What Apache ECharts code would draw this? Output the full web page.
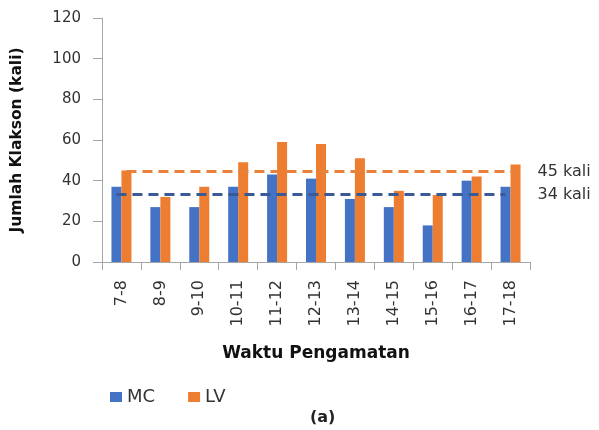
<!DOCTYPE html>
<html>
<head>
<meta charset="utf-8">
<script src="https://cdn.jsdelivr.net/npm/echarts@6/dist/echarts.min.js"></script>
<style>
html,body{margin:0;padding:0;background:#fff;}
#c{width:599px;height:430px;}
</style>
</head>
<body>
<div id="c"></div>
<script>
var categories = ['7-8','8-9','9-10','10-11','11-12','12-13','13-14','14-15','15-16','16-17','17-18'];
var mcValues = [37, 27, 27, 37, 43, 41, 31, 27, 18, 40, 37];
var lvValues = [45, 32, 37, 49, 59, 58, 51, 35, 33, 42, 48];
var yTicks = [0, 20, 40, 60, 80, 100, 120];
var avgLabelMC = '34 kali';
var avgLabelLV = '45 kali';

function mean(a){ var s=0; for(var i=0;i<a.length;i++) s+=a[i]; return s/a.length; }

var FONT = '"DejaVu Sans", sans-serif';
var chart = echarts.init(document.getElementById('c'), null, {renderer:'canvas'});

function avgLine(values, label, color, dist){
  var m = mean(values);
  return {
    silent: true,
    symbol: 'none',
    lineStyle: {color: color, width: 3, type: [10, 6]},
    label: {show: true, position: 'end', distance: dist, formatter: label,
            color: '#333', fontSize: 16, fontFamily: FONT},
    data: [[{coord: [categories[0], m]}, {coord: [categories[categories.length-1], m]}]]
  };
}

chart.setOption({
  animation: false,
  textStyle: {fontFamily: FONT},
  grid: {left: 102, right: 69, top: 18, bottom: 168, containLabel: false},
  title: {text: '(a)', left: 305, top: 405,
          textStyle: {fontSize: 16, fontWeight: 'bold', color: '#222', fontFamily: FONT}},
  legend: {
    left: 105, top: 383, itemWidth: 12, itemHeight: 10, itemGap: 33,
    icon: 'rect',
    textStyle: {fontSize: 18, color: '#333', fontFamily: FONT},
    data: ['MC', 'LV']
  },
  xAxis: {
    type: 'category',
    data: categories,
    name: 'Waktu Pengamatan',
    nameLocation: 'middle',
    nameGap: 83,
    nameTextStyle: {fontSize: 17, fontWeight: 'bold', color: '#111', fontFamily: FONT},
    axisLine: {lineStyle: {color: '#A6A6A6', width: 1}},
    axisTick: {show: true, interval: 0, length: 8, lineStyle: {color: '#A6A6A6'}},
    axisLabel: {rotate: 90, interval: 0, margin: 18, fontSize: 16, color: '#333', fontFamily: FONT}
  },
  yAxis: {
    type: 'value',
    min: yTicks[0], max: yTicks[yTicks.length-1], interval: 20,
    name: 'Jumlah Klakson (kali)',
    nameLocation: 'middle',
    nameGap: 77,
    nameTextStyle: {fontSize: 15.5, fontWeight: 'bold', color: '#111', fontFamily: FONT},
    axisLine: {show: true, lineStyle: {color: '#A6A6A6', width: 1}},
    axisTick: {show: true, length: 9, lineStyle: {color: '#A6A6A6'}},
    splitLine: {show: false},
    axisLabel: {margin: 21, fontSize: 15, color: '#333', fontFamily: FONT}
  },
  series: [
    {
      name: 'MC', type: 'bar', data: mcValues,
      itemStyle: {color: '#4472C4'},
      barWidth: 10, barGap: '0%',
      markLine: avgLine(mcValues, avgLabelMC, '#3A5A96', 32),
      z: 2
    },
    {
      name: 'LV', type: 'bar', data: lvValues,
      itemStyle: {color: '#ED7D31'},
      barWidth: 10, barGap: '0%',
      markLine: avgLine(lvValues, avgLabelLV, '#E8823A', 22),
      z: 2
    }
  ]
});
</script>
</body>
</html>
